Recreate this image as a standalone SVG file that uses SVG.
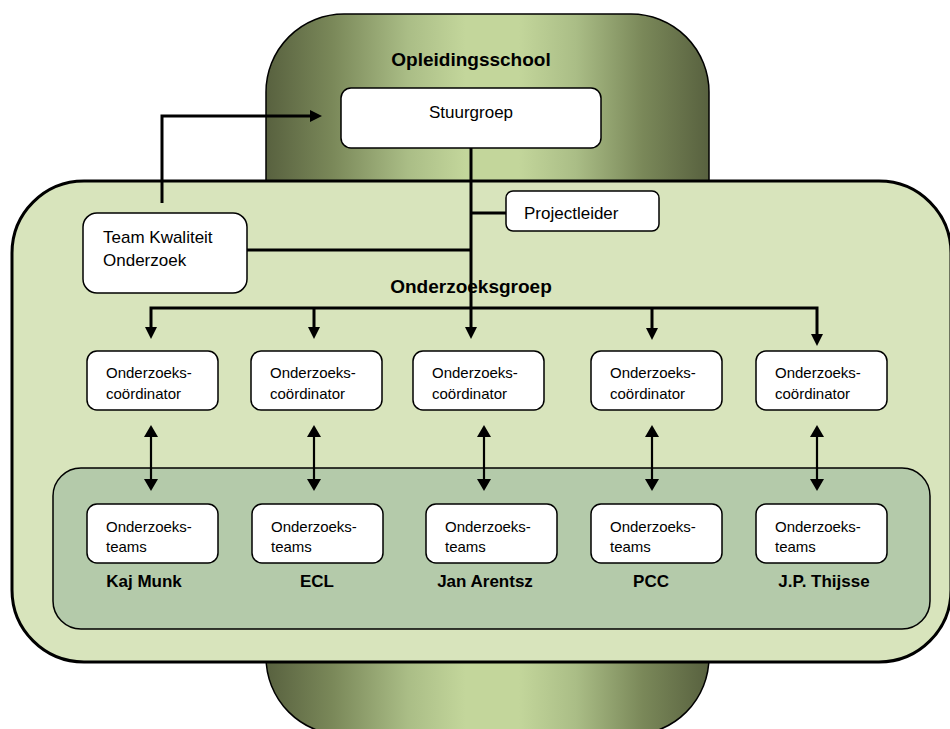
<svg xmlns="http://www.w3.org/2000/svg" width="950" height="729" viewBox="0 0 950 729">
  <defs>
    <linearGradient id="olive" x1="266" y1="0" x2="709" y2="0" gradientUnits="userSpaceOnUse">
      <stop offset="0" stop-color="#58613f"/>
      <stop offset="0.15" stop-color="#7a8859"/>
      <stop offset="0.32" stop-color="#aabd86"/>
      <stop offset="0.45" stop-color="#c3d69b"/>
      <stop offset="0.57" stop-color="#c3d69b"/>
      <stop offset="0.7" stop-color="#aabd86"/>
      <stop offset="0.85" stop-color="#7a8859"/>
      <stop offset="1" stop-color="#58613f"/>
    </linearGradient>
    <marker id="ah" viewBox="0 0 12 12" refX="6" refY="6" markerWidth="12" markerHeight="12" markerUnits="userSpaceOnUse" orient="auto-start-reverse">
      <path d="M0,0 L12,6 L0,12 z" fill="#000"/>
    </marker>
    <marker id="ah2" viewBox="0 0 12 14" refX="6" refY="7" markerWidth="12" markerHeight="14" markerUnits="userSpaceOnUse" orient="auto-start-reverse">
      <path d="M0,0 L12,7 L0,14 z" fill="#000"/>
    </marker>
  </defs>
  <style>
    .box { fill: #ffffff; stroke: #000; stroke-width: 1.5; }
    .t { font-family: "Liberation Sans", Arial, sans-serif; font-size: 15px; fill: #000; }
    .tl { font-family: "Liberation Sans", Arial, sans-serif; font-size: 17px; fill: #000; }
    .h { font-family: "Liberation Sans", Arial, sans-serif; font-size: 19px; font-weight: bold; fill: #000; text-anchor: middle; }
    .lab { font-family: "Liberation Sans", Arial, sans-serif; font-size: 17px; font-weight: bold; fill: #000; text-anchor: middle; }
    .c { fill: none; stroke: #000; stroke-width: 3; }
    .c2 { fill: none; stroke: #000; stroke-width: 2.2; }
  </style>

  <g id="opleidingsschool">
    <rect x="266" y="14" width="443" height="721" rx="78" ry="78" fill="url(#olive)" stroke="#000" stroke-width="1.5"/>
  </g>
  <g id="onderzoeksgroep">
    <rect x="12" y="181" width="939" height="481" rx="72" ry="72" fill="#d8e4bc" stroke="#000" stroke-width="3"/>
  </g>
  <g id="scholen">
    <rect x="53" y="468" width="877" height="161" rx="28" ry="28" fill="#b4caaa" stroke="#000" stroke-width="1.5"/>
  </g>

  <text class="h" x="471" y="66">Opleidingsschool</text>
  <text class="h" x="471" y="293">Onderzoeksgroep</text>

  <g id="stuurgroep">
    <rect class="box" x="341" y="88" width="260" height="60" rx="10"/>
    <text class="tl" x="471" y="118" text-anchor="middle">Stuurgroep</text>
  </g>
  <g id="projectleider">
    <rect class="box" x="506" y="191" width="153" height="40" rx="7"/>
    <text class="tl" x="524" y="219">Projectleider</text>
  </g>
  <g id="team-kwaliteit">
    <rect class="box" x="83" y="213" width="164" height="80" rx="14"/>
    <text class="tl" x="103" y="243">Team Kwaliteit</text>
    <text class="tl" x="103" y="266">Onderzoek</text>
  </g>

  <g id="connectors">
    <path class="c" d="M162,203 V116 H316" marker-end="url(#ah)"/>
    <path class="c" d="M471,148 V333" marker-end="url(#ah)"/>
    <path class="c" d="M471,213 H506"/>
    <path class="c" d="M247,250 H471"/>
    <path class="c" d="M151,333 V308 H817 V340" marker-start="url(#ah)" marker-end="url(#ah)"/>
    <path class="c" d="M314,308 V333" marker-end="url(#ah)"/>
    <path class="c" d="M652,308 V334" marker-end="url(#ah)"/>
    <path class="c2" d="M151,431 V485" marker-start="url(#ah2)" marker-end="url(#ah2)"/>
    <path class="c2" d="M314,431 V485" marker-start="url(#ah2)" marker-end="url(#ah2)"/>
    <path class="c2" d="M484,431 V485" marker-start="url(#ah2)" marker-end="url(#ah2)"/>
    <path class="c2" d="M652,431 V485" marker-start="url(#ah2)" marker-end="url(#ah2)"/>
    <path class="c2" d="M817,431 V485" marker-start="url(#ah2)" marker-end="url(#ah2)"/>
  </g>

  <g id="coord-1">
    <rect class="box" x="87" y="351" width="131" height="59" rx="10"/>
    <text class="t" x="106" y="378">Onderzoeks-</text>
    <text class="t" x="106" y="399">coördinator</text>
  </g>
  <g id="coord-2">
    <rect class="box" x="251" y="351" width="131" height="59" rx="10"/>
    <text class="t" x="270" y="378">Onderzoeks-</text>
    <text class="t" x="270" y="399">coördinator</text>
  </g>
  <g id="coord-3">
    <rect class="box" x="413" y="351" width="131" height="59" rx="10"/>
    <text class="t" x="432" y="378">Onderzoeks-</text>
    <text class="t" x="432" y="399">coördinator</text>
  </g>
  <g id="coord-4">
    <rect class="box" x="591" y="351" width="131" height="59" rx="10"/>
    <text class="t" x="610" y="378">Onderzoeks-</text>
    <text class="t" x="610" y="399">coördinator</text>
  </g>
  <g id="coord-5">
    <rect class="box" x="756" y="351" width="131" height="59" rx="10"/>
    <text class="t" x="775" y="378">Onderzoeks-</text>
    <text class="t" x="775" y="399">coördinator</text>
  </g>

  <g id="team-1">
    <rect class="box" x="87" y="504" width="131" height="59" rx="10"/>
    <text class="t" x="106" y="532">Onderzoeks-</text>
    <text class="t" x="106" y="552">teams</text>
  </g>
  <g id="team-2">
    <rect class="box" x="252" y="504" width="131" height="59" rx="10"/>
    <text class="t" x="271" y="532">Onderzoeks-</text>
    <text class="t" x="271" y="552">teams</text>
  </g>
  <g id="team-3">
    <rect class="box" x="426" y="504" width="131" height="59" rx="10"/>
    <text class="t" x="445" y="532">Onderzoeks-</text>
    <text class="t" x="445" y="552">teams</text>
  </g>
  <g id="team-4">
    <rect class="box" x="591" y="504" width="131" height="59" rx="10"/>
    <text class="t" x="610" y="532">Onderzoeks-</text>
    <text class="t" x="610" y="552">teams</text>
  </g>
  <g id="team-5">
    <rect class="box" x="756" y="504" width="131" height="59" rx="10"/>
    <text class="t" x="775" y="532">Onderzoeks-</text>
    <text class="t" x="775" y="552">teams</text>
  </g>

  <g id="labels">
    <text class="lab" x="144" y="587">Kaj Munk</text>
    <text class="lab" x="317" y="587">ECL</text>
    <text class="lab" x="485" y="587">Jan Arentsz</text>
    <text class="lab" x="651" y="587">PCC</text>
    <text class="lab" x="824" y="587">J.P. Thijsse</text>
  </g>
</svg>
